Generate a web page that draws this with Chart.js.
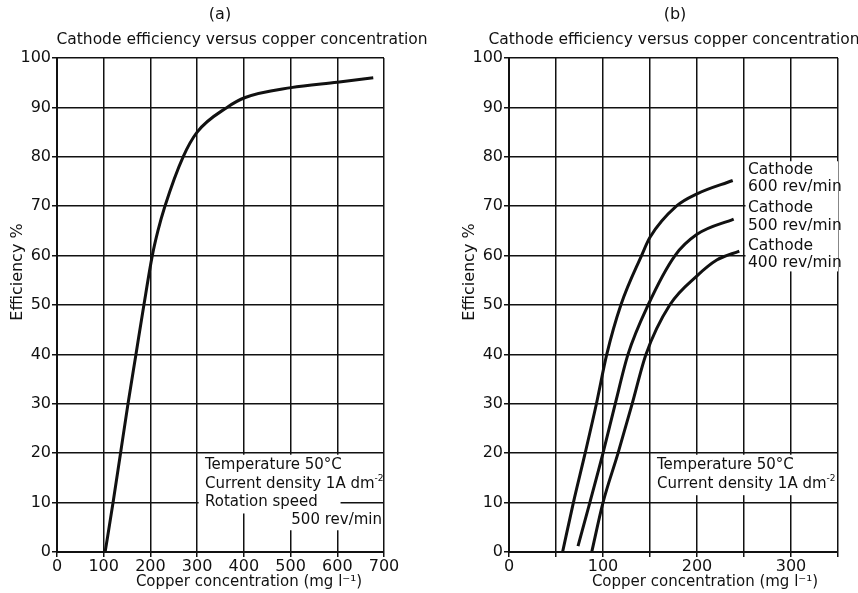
<!DOCTYPE html>
<html>
<head>
<meta charset="utf-8">
<script src="https://cdn.jsdelivr.net/npm/chart.js@4.4.1/dist/chart.umd.min.js"></script>
<style>
  body { margin: 0; background: #fff; }
  #wrap { position: relative; width: 858px; height: 593px; }
  #chartA { position: absolute; left: 0; top: 0; }
  #chartB { position: absolute; left: 430px; top: 0; }
</style>
</head>
<body>
<div id="wrap">
  <canvas id="chartA" width="430" height="593"></canvas>
  <canvas id="chartB" width="428" height="593"></canvas>
</div>
<script>
// panel (a): single curve, rotation speed 500 rev/min
const concA = [103, 120, 136, 152, 169, 186, 204, 216, 231, 270, 300, 364, 403, 501, 600, 677];
const effA  = [0, 10, 20, 30, 40, 50, 60, 65, 70, 80, 85, 90, 92, 94, 95.1, 96];

// panel (b): three cathode speeds
const conc600 = [57, 68.5, 81, 93, 104, 119, 141, 150, 178, 200, 238];
const eff600  = [0, 10, 20, 30, 40, 50, 60, 63.7, 70, 72.5, 75.2];
const conc500 = [73.4, 86, 100, 113, 126.6, 148, 176.6, 200, 239];
const eff500  = [1.2, 10, 20, 30, 40, 50, 60, 64.3, 67.4];
const conc400 = [88, 100, 116, 131, 145.7, 171, 200, 221, 245];
const eff400  = [0, 10, 20, 30, 40, 50, 55.9, 59.1, 60.9];

// axis ticks
const yTicks  = [0, 10, 20, 30, 40, 50, 60, 70, 80, 90, 100];
const xTicksA = [0, 100, 200, 300, 400, 500, 600, 700];
const xTicksB = [0, 100, 200, 300];

const FONT = "'DejaVu Sans', sans-serif";

//turn two arrays into {x,y} points
function toPoints(xs, ys) {
    var pts = [];
    for (var i = 0; i < xs.length; i++) {
        pts.push({ x: xs[i], y: ys[i] });
    }
    return pts;
}

function curve(xs, ys) {
    return {
        data: toPoints(xs, ys),
        borderColor: '#111',
        borderWidth: 3,
        pointRadius: 0,
        fill: false,
        cubicInterpolationMode: 'monotone'
    };
}

//white boxes behind the notes and the printed texts
const paperNotes = {
    id: 'paperNotes',
    beforeDatasetsDraw(chart, args, opts) {
        const ctx = chart.ctx;
        const xs = chart.scales.x, ys = chart.scales.y;
        const area = chart.chartArea;
        ctx.save();
        ctx.fillStyle = '#fff';
        (opts.boxes || []).forEach(function (b) {
            var x0 = xs.getPixelForValue(b[0]) + 1.5;
            var x1 = Math.min(xs.getPixelForValue(b[1]), area.right + (b[4] || -1.5));
            var y0 = ys.getPixelForValue(b[2]) + 1.5;
            var y1 = ys.getPixelForValue(b[3]);
            ctx.fillRect(x0, y0, x1 - x0, y1 - y0);
        });
        ctx.restore();
    },
    afterDraw(chart, args, opts) {
        const ctx = chart.ctx;
        ctx.save();
        ctx.fillStyle = '#111';
        ctx.textBaseline = 'middle';
        (opts.texts || []).forEach(function (t) {
            var size = t.size || 15;
            ctx.font = size + 'px ' + FONT;
            ctx.textAlign = t.align || 'left';
            if (t.rotate) {
                ctx.save();
                ctx.translate(t.x, t.y);
                ctx.rotate(-Math.PI / 2);
                ctx.fillText(t.text, 0, 0);
                ctx.restore();
            } else {
                ctx.fillText(t.text, t.x, t.y);
                if (t.sup) {
                    //small raised exponent after the main text
                    var w = ctx.measureText(t.text).width;
                    ctx.font = Math.round(size * 0.62) + 'px ' + FONT;
                    ctx.textAlign = 'left';
                    ctx.fillText(t.sup, t.x + w, t.y - size * 0.38);
                }
            }
        });
        ctx.restore();
    }
};

function makeChart(id, datasets, xMax, xStep, xLabels, padLeft, padRight, boxes, texts) {
    const grid = { color: '#111', lineWidth: 1.5, tickLength: 5, tickColor: '#111' };
    return new Chart(document.getElementById(id), {
        type: 'line',
        data: { datasets: datasets },
        options: {
            responsive: false,
            animation: false,
            layout: { padding: { left: padLeft, right: padRight, top: 58, bottom: 0 } },
            plugins: {
                legend: { display: false },
                tooltip: { enabled: false },
                paperNotes: { boxes: boxes, texts: texts }
            },
            scales: {
                x: {
                    type: 'linear',
                    min: 0,
                    max: xMax,
                    grid: grid,
                    border: { color: '#111', width: 2 },
                    ticks: {
                        stepSize: xStep,
                        autoSkip: false,
                        maxRotation: 0,
                        padding: 0,
                        color: '#111',
                        font: { family: FONT, size: 16 },
                        callback: function (v) { return xLabels.includes(v) ? String(v) : ''; }
                    },
                    afterFit: function (s) { s.height = 41; }
                },
                y: {
                    min: 0,
                    max: 100,
                    grid: grid,
                    border: { color: '#111', width: 2 },
                    ticks: {
                        stepSize: 10,
                        padding: 1,
                        color: '#111',
                        font: { family: FONT, size: 16 },
                        callback: function (v) { return yTicks.includes(v) ? String(v) : ''; }
                    },
                    afterFit: function (s) { s.width = 57; }
                }
            }
        },
        plugins: [paperNotes]
    });
}

// panel (a)
makeChart('chartA', [curve(concA, effA)], 700, 100, xTicksA, 0, 46,
    [[300, 700, 20, 12.1], [300, 607, 12.5, 7.8], [480, 700, 8.4, 4.4]],
    [
        { text: '(a)', x: 220, y: 15, align: 'center', size: 16 },
        { text: 'Cathode efficiency versus copper concentration', x: 242, y: 40, align: 'center', size: 15.5 },
        { text: 'Efficiency %', x: 18, y: 272, align: 'center', rotate: true, size: 16 },
        { text: 'Copper concentration (mg l\u207B\u00B9)', x: 249, y: 582, align: 'center' },
        { text: 'Temperature 50\u00B0C', x: 205, y: 465 },
        { text: 'Current density 1A dm', sup: '-2', x: 205, y: 484 },
        { text: 'Rotation speed', x: 205, y: 502 },
        { text: '500 rev/min', x: 382, y: 520, align: 'right' }
    ]);

// panel (b)
makeChart('chartB', [curve(conc600, eff600), curve(conc500, eff500), curve(conc400, eff400)],
    350, 50, xTicksB, 22, 20,
    [[150, 350, 20, 11.5], [250, 350, 79.4, 56.8, 3]],
    [
        { text: '(b)', x: 245, y: 15, align: 'center', size: 16 },
        { text: 'Cathode efficiency versus copper concentration', x: 244, y: 40, align: 'center', size: 15.5 },
        { text: 'Efficiency %', x: 40, y: 272, align: 'center', rotate: true, size: 16 },
        { text: 'Copper concentration (mg l\u207B\u00B9)', x: 275, y: 582, align: 'center' },
        { text: 'Temperature 50\u00B0C', x: 227, y: 465 },
        { text: 'Current density 1A dm', sup: '-2', x: 227, y: 484 },
        { text: 'Cathode', x: 318, y: 170, size: 15.5 },
        { text: '600 rev/min', x: 318, y: 187, size: 15.5 },
        { text: 'Cathode', x: 318, y: 208, size: 15.5 },
        { text: '500 rev/min', x: 318, y: 226, size: 15.5 },
        { text: 'Cathode', x: 318, y: 246, size: 15.5 },
        { text: '400 rev/min', x: 318, y: 263, size: 15.5 }
    ]);
</script>
</body>
</html>
